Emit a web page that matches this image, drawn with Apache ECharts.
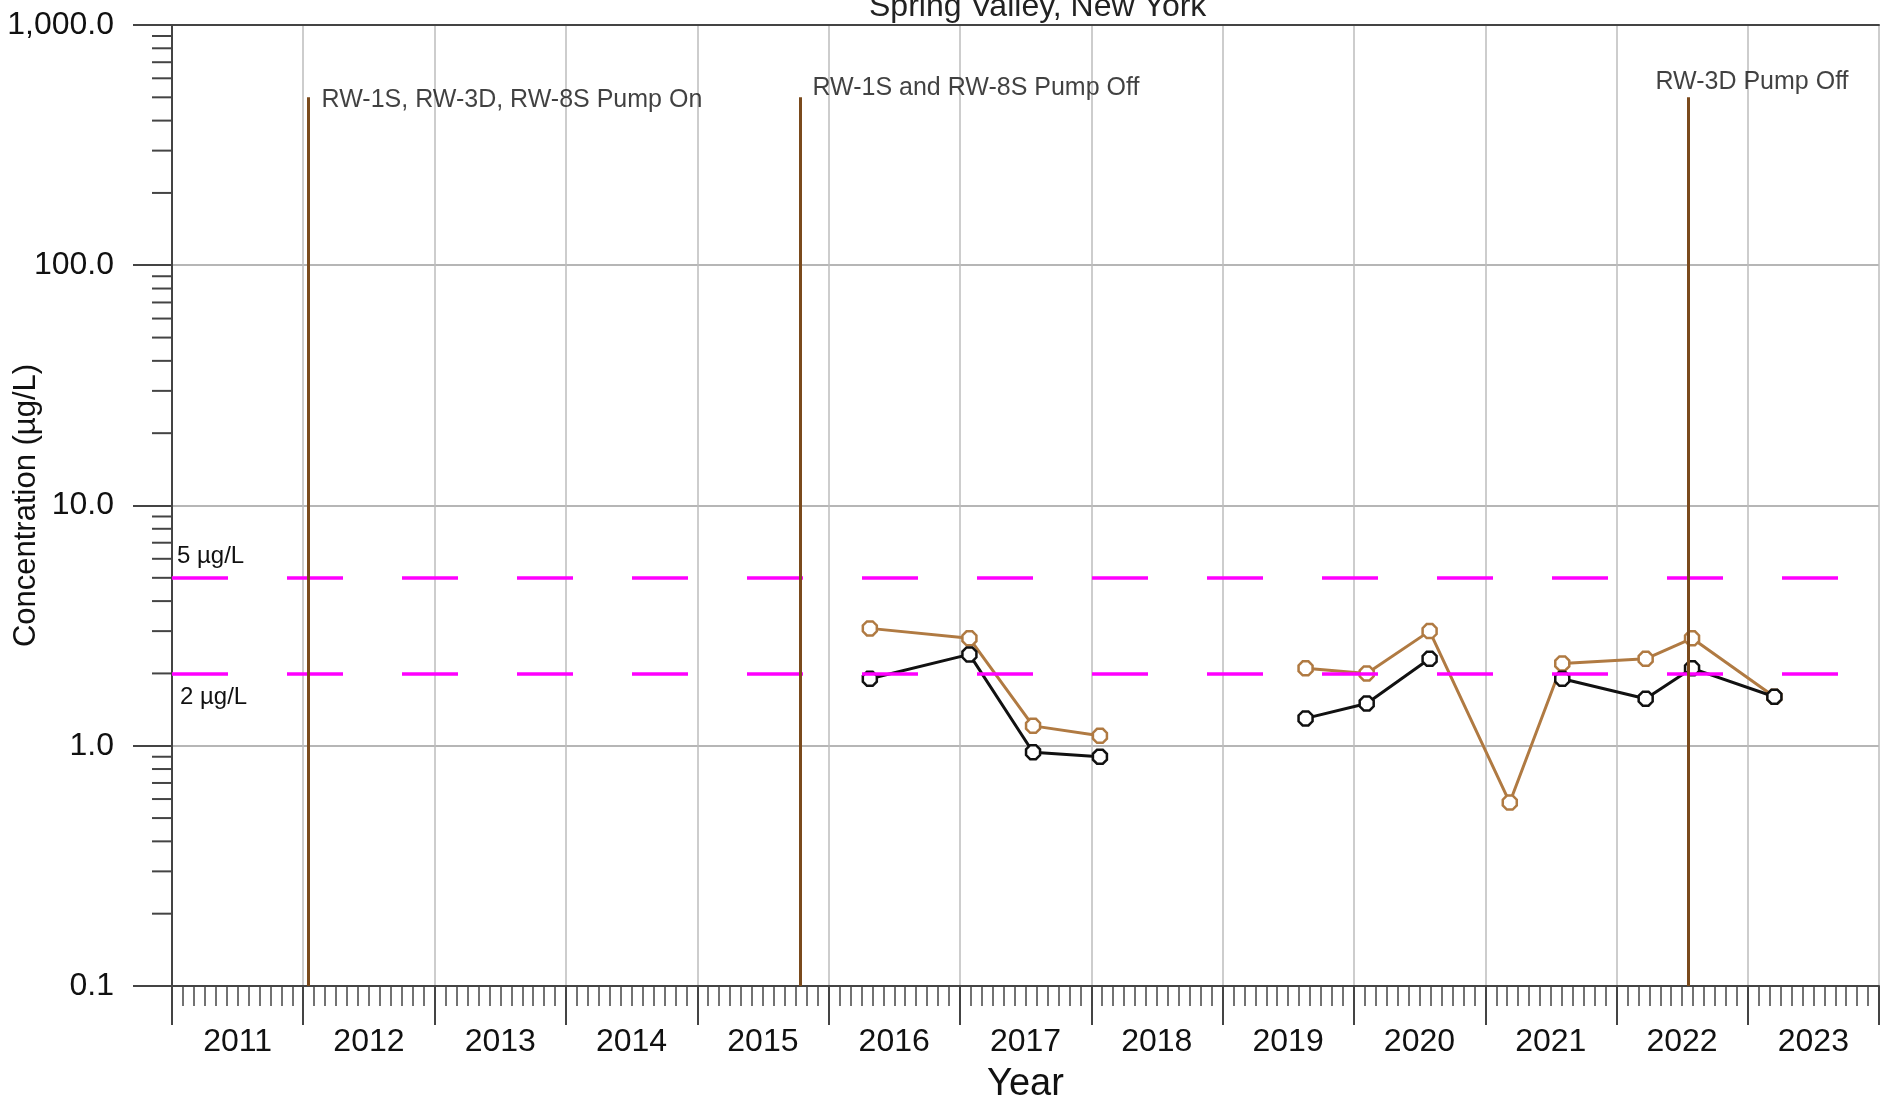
<!DOCTYPE html>
<html>
<head>
<meta charset="utf-8">
<script src="https://cdn.jsdelivr.net/npm/echarts@6/dist/echarts.min.js"></script>
<style>
html,body{margin:0;padding:0;background:#ffffff;}
#chart{width:1883px;height:1098px;}
</style>
</head>
<body>
<div id="chart"></div>
<script>
// ---------------- data ----------------
const chartTitle = 'Spring Valley, New York';
const xAxisName = 'Year';
const yAxisName = 'Concentration (µg/L)';
const yearLabels = ['2011','2012','2013','2014','2015','2016','2017','2018','2019','2020','2021','2022','2023'];
const xMin = '2011-01-01';
const xMax = '2024-01-01';
const yMin = 0.1;
const yMax = 1000;

// sampling dates (a null value marks a break in the line)
const sampleDates = ['2016-04-25','2017-01-27','2017-07-23','2018-01-25','2018-08-01',
                     '2019-08-20','2020-02-06','2020-07-30','2021-03-10','2021-08-03',
                     '2022-03-23','2022-07-30','2023-03-16'];
const brownValues = [3.08, 2.8, 1.21, 1.1, null, 2.1, 2.0, 3.0, 0.58, 2.2, 2.3, 2.8, 1.6];
const blackValues = [1.9, 2.4, 0.94, 0.9, null, 1.3, 1.5, 2.3, null, 1.9, 1.57, 2.1, 1.6];

const eventDates = ['2012-01-16','2015-10-15','2022-07-20'];
const eventLabels = ['RW-1S, RW-3D, RW-8S Pump On','RW-1S and RW-8S Pump Off','RW-3D Pump Off'];
const eventTop = 500;

const thresholdValues = [5, 2];
const thresholdLabels = ['5 µg/L', '2 µg/L'];

// ---------------- styles ----------------
const FONT = '"Liberation Sans", Arial, Helvetica, sans-serif';
const brownColor = '#B07A42';
const blackColor = '#111111';
const eventColor = '#7A4A1C';
const axisColor = '#444444';
const textColor = '#111111';
const octagon = 'path://M-0.414,-1 L0.414,-1 L1,-0.414 L1,0.414 L0.414,1 L-0.414,1 L-1,0.414 L-1,-0.414 Z';
const eventLabelOffsets = [[13, 3], [12, -9], [-33, -15]];
const thresholdLabelStyles = [
  {position: 'insideStartTop', distance: [5, 9]},
  {position: 'insideStartBottom', distance: [8, 12]}
];

// y minor tick positions (2..9 of each decade)
const minorTickValues = [];
for (let e = -1; e <= 2; e++) {
  for (let m = 2; m <= 9; m++) minorTickValues.push(+(m * Math.pow(10, e)).toPrecision(3));
}

const toSeriesData = vals => sampleDates.map((d, i) => [d, vals[i] == null ? '-' : vals[i]]);

const chart = echarts.init(document.getElementById('chart'), null, {renderer: 'canvas'});
const option = {
  animation: false,
  backgroundColor: '#ffffff',
  textStyle: {fontFamily: FONT},
  title: {
    text: chartTitle,
    left: 864,
    top: -14,
    textStyle: {fontFamily: FONT, fontSize: 32, fontWeight: 'normal', color: '#222'}
  },
  grid: {left: 172, right: 4, top: 25, bottom: 112, containLabel: false, outerBoundsMode: 'none'},
  xAxis: [
    {
      type: 'time',
      min: xMin,
      max: xMax,
      splitNumber: 13,
      minInterval: 365 * 24 * 3600 * 1000,
      maxInterval: 366 * 24 * 3600 * 1000,
      position: 'bottom',
      name: xAxisName,
      nameLocation: 'middle',
      nameGap: 80,
      nameMoveOverlap: false,
      nameTextStyle: {fontFamily: FONT, fontSize: 38, color: textColor},
      axisLine: {show: true, lineStyle: {color: axisColor, width: 2}},
      axisTick: {show: true, length: 39, lineStyle: {color: axisColor, width: 2}},
      minorTick: {show: true, splitNumber: 12, length: 20, lineStyle: {color: axisColor, width: 1.5}},
      axisLabel: {show: false},
      splitLine: {show: true, lineStyle: {color: '#bdbdbd', width: 1.5}}
    },
    {
      type: 'category',
      data: yearLabels,
      boundaryGap: true,
      position: 'bottom',
      axisLine: {show: false},
      axisTick: {show: false},
      splitLine: {show: false},
      axisLabel: {show: true, margin: 40, fontFamily: FONT, fontSize: 32, color: textColor}
    },
    {
      type: 'value',
      position: 'top',
      min: 0,
      max: 1,
      axisLine: {show: true, lineStyle: {color: axisColor, width: 2}},
      axisTick: {show: false},
      axisLabel: {show: false},
      splitLine: {show: false}
    }
  ],
  yAxis: {
    type: 'log',
    logBase: 10,
    min: yMin,
    max: yMax,
    name: yAxisName,
    nameLocation: 'middle',
    nameGap: 130,
    nameMoveOverlap: false,
    nameTextStyle: {fontFamily: FONT, fontSize: 31, color: textColor},
    axisLine: {show: true, lineStyle: {color: axisColor, width: 2}},
    axisTick: {show: true, length: 39, lineStyle: {color: axisColor, width: 2}},
    axisLabel: {
      margin: 58,
      fontFamily: FONT,
      fontSize: 32,
      color: textColor,
      formatter: v => Number(v).toLocaleString('en-US', {minimumFractionDigits: 1, maximumFractionDigits: 1})
    },
    splitLine: {show: true, lineStyle: {color: '#9e9e9e', width: 1.5}}
  },
  series: [
    {
      name: 'y minor ticks',
      type: 'custom',
      coordinateSystem: 'cartesian2d',
      xAxisIndex: 0,
      yAxisIndex: 0,
      clip: false,
      silent: true,
      z: 1,
      data: minorTickValues.map(v => [xMin, v]),
      renderItem: (params, api) => {
        const pt = api.coord([api.value(0), api.value(1)]);
        return {
          type: 'line',
          shape: {x1: pt[0] - 20, y1: pt[1], x2: pt[0], y2: pt[1]},
          style: {stroke: axisColor, lineWidth: 2}
        };
      }
    },
    {
      name: 'thresholds',
      type: 'line',
      xAxisIndex: 0,
      yAxisIndex: 0,
      data: [],
      z: 2,
      markLine: {
        silent: true,
        symbol: ['none', 'none'],
        lineStyle: {color: '#FF00FF', width: 3.5, type: [56, 59]},
        data: thresholdValues.map((v, i) => ({
          yAxis: v,
          label: Object.assign({
            show: true,
            formatter: thresholdLabels[i],
            fontFamily: FONT,
            fontSize: 24,
            color: textColor
          }, thresholdLabelStyles[i])
        }))
      }
    },
    {
      name: 'Series A',
      type: 'line',
      xAxisIndex: 0,
      yAxisIndex: 0,
      z: 3,
      data: toSeriesData(brownValues),
      connectNulls: false,
      symbol: octagon,
      symbolSize: 14,
      lineStyle: {color: brownColor, width: 3},
      itemStyle: {color: '#ffffff', borderColor: brownColor, borderWidth: 2.5}
    },
    {
      name: 'Series B',
      type: 'line',
      xAxisIndex: 0,
      yAxisIndex: 0,
      z: 4,
      data: toSeriesData(blackValues),
      connectNulls: false,
      symbol: octagon,
      symbolSize: 14,
      lineStyle: {color: blackColor, width: 3},
      itemStyle: {color: '#ffffff', borderColor: blackColor, borderWidth: 2.5}
    },
    {
      name: 'events',
      type: 'scatter',
      xAxisIndex: 0,
      yAxisIndex: 0,
      z: 5,
      symbolSize: 0,
      silent: true,
      data: eventDates.map((d, i) => ({
        value: [d, eventTop],
        label: {
          show: true,
          formatter: eventLabels[i],
          position: 'inside',
          align: 'left',
          verticalAlign: 'middle',
          offset: eventLabelOffsets[i],
          fontFamily: FONT,
          fontSize: 25,
          color: textColor,
          textBorderWidth: 0
        }
      })),
      markLine: {
        silent: true,
        symbol: ['none', 'none'],
        label: {show: false},
        lineStyle: {color: eventColor, width: 3, type: 'solid'},
        data: eventDates.map(d => [{coord: [d, yMin]}, {coord: [d, eventTop]}])
      }
    }
  ]
};
chart.setOption(option);
</script>
</body>
</html>
